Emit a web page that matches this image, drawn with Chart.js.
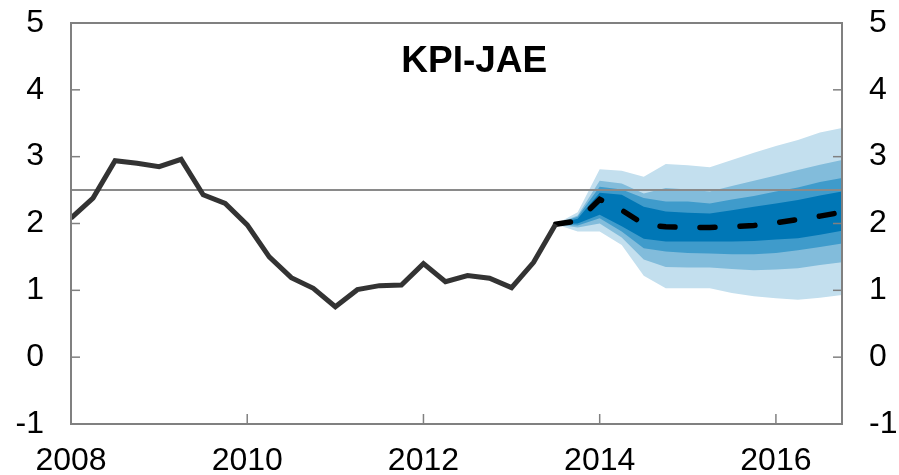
<!DOCTYPE html>
<html><head><meta charset="utf-8">
<script src="https://cdn.jsdelivr.net/npm/chart.js@4/dist/chart.umd.min.js"></script>
<style>html,body{margin:0;padding:0;background:#fff;}canvas{display:block;}</style>
</head><body>
<canvas id="c" width="899" height="475"></canvas>
<script>
// ---- data ----
const chartTitle = 'KPI-JAE';
const firstYear = 2008;
const lastPos = 2016.75;
const xTickYears = [2008, 2010, 2012, 2014, 2016];
const yTickValues = [-1, 0, 1, 2, 3, 4, 5];
const inflationTarget = 2.5;
// quarterly history, 2008Q1 .. 2013Q3
const history = [2.08,2.38,2.94,2.90,2.85,2.96,2.43,2.30,1.98,1.50,1.19,1.03,0.755,1.01,1.07,1.08,1.40,1.13,1.22,1.18,1.04,1.42,1.99];
// projection (median), 2013Q3 .. 2016Q4
const projStartIndex = 22;
const projection = [1.99,2.04,2.36,2.20,1.99,1.95,1.94,1.94,1.95,1.97,2.01,2.06,2.11,2.17];
// fan bands, 2013Q3 .. 2016Q4
const band90Upper = [1.99,2.17,2.81,2.79,2.70,2.89,2.87,2.84,2.95,3.06,3.16,3.25,3.36,3.43];
const band90Lower = [1.99,1.88,1.88,1.68,1.22,1.03,1.03,1.03,0.96,0.91,0.88,0.86,0.89,0.93];
const band70Upper = [1.99,2.12,2.64,2.60,2.45,2.53,2.51,2.48,2.56,2.64,2.72,2.80,2.88,2.95];
const band70Lower = [1.99,1.94,2.00,1.79,1.46,1.35,1.34,1.34,1.32,1.30,1.31,1.33,1.38,1.42];
const band50Upper = [1.99,2.10,2.55,2.51,2.38,2.33,2.33,2.30,2.36,2.41,2.48,2.54,2.62,2.68];
const band50Lower = [1.99,1.97,2.08,1.88,1.63,1.58,1.56,1.55,1.54,1.54,1.56,1.60,1.65,1.70];
const band30Upper = [1.99,2.07,2.46,2.43,2.25,2.18,2.16,2.15,2.20,2.25,2.30,2.35,2.42,2.48];
const band30Lower = [1.99,2.00,2.13,1.96,1.77,1.73,1.73,1.73,1.73,1.74,1.76,1.78,1.83,1.89];

// ---- build ----
const quarterPos = i => firstYear + i / 4;
const histPts = history.map((v, i) => ({x: quarterPos(i), y: v}));
const proj = arr => arr.map((v, i) => ({x: quarterPos(projStartIndex + i), y: v}));

const colLight = '#c3dfee', colMid = '#82bcdb', colMid2 = '#3f9bcb', colDark = '#0077b6';

function band(upper, lower, color) {
  return [
    {data: proj(upper), fill: '+1', backgroundColor: color, borderWidth: 0, pointRadius: 0},
    {data: proj(lower), fill: false, borderWidth: 0, pointRadius: 0}
  ];
}

const datasets = [
  {data: histPts, borderColor: '#333333', borderWidth: 5, pointRadius: 0, fill: false, borderJoinStyle: 'miter'},
  {data: proj(projection), borderColor: '#000000', borderWidth: 5.5, pointRadius: 0, fill: false,
   borderDash: [15, 25], borderCapStyle: 'round'},
  {data: [{x: firstYear, y: inflationTarget}, {x: lastPos, y: inflationTarget}], borderColor: '#8a8a8a', borderWidth: 2, pointRadius: 0, fill: false},
  ...band(band30Upper, band30Lower, colDark),
  ...band(band50Upper, band50Lower, colMid2),
  ...band(band70Upper, band70Lower, colMid),
  ...band(band90Upper, band90Lower, colLight)
];

const FONT = '"Liberation Sans", Arial, sans-serif';

const framePlugin = {
  id: 'frame',
  afterDraw(chart) {
    const {ctx, chartArea: a, scales} = chart;
    ctx.save();
    ctx.strokeStyle = '#808080';
    ctx.lineWidth = 2;
    ctx.strokeRect(a.left, a.top, a.right - a.left, a.bottom - a.top);
    ctx.lineWidth = 1.5;
    const seg = (x1, y1, x2, y2) => { ctx.beginPath(); ctx.moveTo(x1, y1); ctx.lineTo(x2, y2); ctx.stroke(); };
    scales.y.ticks.forEach(t => {
      const py = scales.y.getPixelForValue(t.value);
      seg(a.left, py, a.left + 9, py);
      seg(a.right - 9, py, a.right, py);
    });
    scales.x.ticks.forEach(t => {
      const px = scales.x.getPixelForValue(t.value);
      seg(px, a.bottom - 10, px, a.bottom);
    });
    ctx.fillStyle = '#000';
    ctx.font = 'bold 37px ' + FONT;
    ctx.textAlign = 'center';
    ctx.textBaseline = 'alphabetic';
    ctx.fillText(chartTitle, a.left + 0.523 * (a.right - a.left), a.top + 49);
    ctx.restore();
  }
};

const tickFont = {family: FONT, size: 32};

function fixY(width) {
  return s => { s.width = width; s.paddingTop = 0; s.paddingBottom = 0; };
}

new Chart(document.getElementById('c'), {
  type: 'line',
  data: {datasets},
  options: {
    responsive: false,
    animation: false,
    devicePixelRatio: 1,
    layout: {padding: {top: 23, left: 0, right: 0, bottom: 0}},
    plugins: {legend: {display: false}, tooltip: {enabled: false}},
    scales: {
      x: {
        type: 'linear', min: firstYear, max: lastPos,
        afterBuildTicks: s => { s.ticks = xTickYears.map(v => ({value: v})); },
        afterFit: s => { s.height = 51; },
        grid: {display: false, drawTicks: false},
        border: {display: false},
        ticks: {font: tickFont, color: '#000', padding: 18, maxRotation: 0, autoSkip: false,
                callback: v => String(v)}
      },
      y: {
        position: 'left', min: -1, max: 5,
        afterBuildTicks: s => { s.ticks = yTickValues.map(v => ({value: v})); },
        afterFit: fixY(71),
        grid: {display: false, drawTicks: false},
        border: {display: false},
        ticks: {font: tickFont, color: '#000', padding: 27}
      },
      y2: {
        position: 'right', min: -1, max: 5,
        afterBuildTicks: s => { s.ticks = yTickValues.map(v => ({value: v})); },
        afterFit: fixY(57),
        grid: {display: false, drawTicks: false},
        border: {display: false},
        ticks: {font: tickFont, color: '#000', padding: 27}
      }
    }
  },
  plugins: [framePlugin]
});
</script>
</body></html>
